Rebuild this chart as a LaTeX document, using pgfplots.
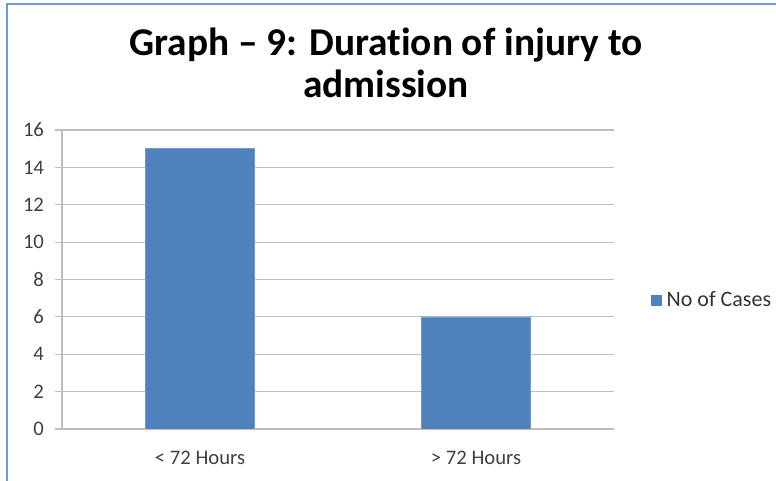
\documentclass[border=0pt]{standalone}
\usepackage{pgfplots}
\pgfplotsset{compat=1.18}
\usepackage{fontspec}
\setmainfont{Carlito}[Ligatures=NoCommon]
\definecolor{barblue}{RGB}{79,129,189}
\definecolor{frameblue}{RGB}{110,155,215}
\definecolor{gridgray}{RGB}{190,190,190}
\begin{document}
\begin{tikzpicture}
\useasboundingbox (0,0) rectangle (776*0.75pt,481*0.75pt);
\fill[white] (0,0) rectangle (776*0.75pt,481*0.75pt);
\draw[frameblue,line width=1.5pt] (7*0.75pt,0) -- (7*0.75pt,477*0.75pt) -- (776*0.75pt,477*0.75pt);
\node[align=center,font=\fontsize{29.5}{31}\selectfont\bfseries] at (386*0.75pt,418*0.75pt) {Graph – 9: Duration of injury to\\admission};
\begin{axis}[
  at={(62*0.75pt,52*0.75pt)}, anchor=south west,
  scale only axis, width=414pt, height=224.25pt,
  xmin=-0.5, xmax=1.5, ymin=0, ymax=16,
  ytick={0,2,...,16},
  xtick={0,1}, xticklabels={< 72 Hours, > 72 Hours},
  major x tick style={draw=none},
  extra x ticks={-0.5,0.5,1.5}, extra x tick labels={},
  extra x tick style={tick style={draw=gridgray, thick}, major tick length=5pt, tick align=outside, grid=none},
  ymajorgrids, grid style={gridgray, line width=0.8pt},
  axis x line*=bottom, axis y line*=left,
  axis line style={gridgray, line width=1pt},
  y tick style={draw=gridgray, line width=0.8pt},
  tick align=outside, major tick length=5pt,
  ticklabel style={font=\fontsize{15.5}{17}\selectfont, text=black!75},
  /pgf/number format/assume math mode=true,
  xticklabel style={yshift=-8pt},
  yticklabel style={xshift=-5pt},
  ybar, bar width=81.75pt,
  legend style={at={(1.064,0.43)}, anchor=west, draw=none, font=\fontsize{16.5}{18}\selectfont, text=black!80, legend cell align=left, inner xsep=1pt, nodes={inner xsep=4pt}},
  legend image code/.code={\fill[barblue] (0cm,-0.13cm) rectangle (0.26cm,0.13cm);},
]
\addplot[fill=barblue, draw=barblue!80!white] coordinates {(0,15) (1,6)};
\addlegendentry{No of Cases}
\end{axis}
\end{tikzpicture}
\end{document}
